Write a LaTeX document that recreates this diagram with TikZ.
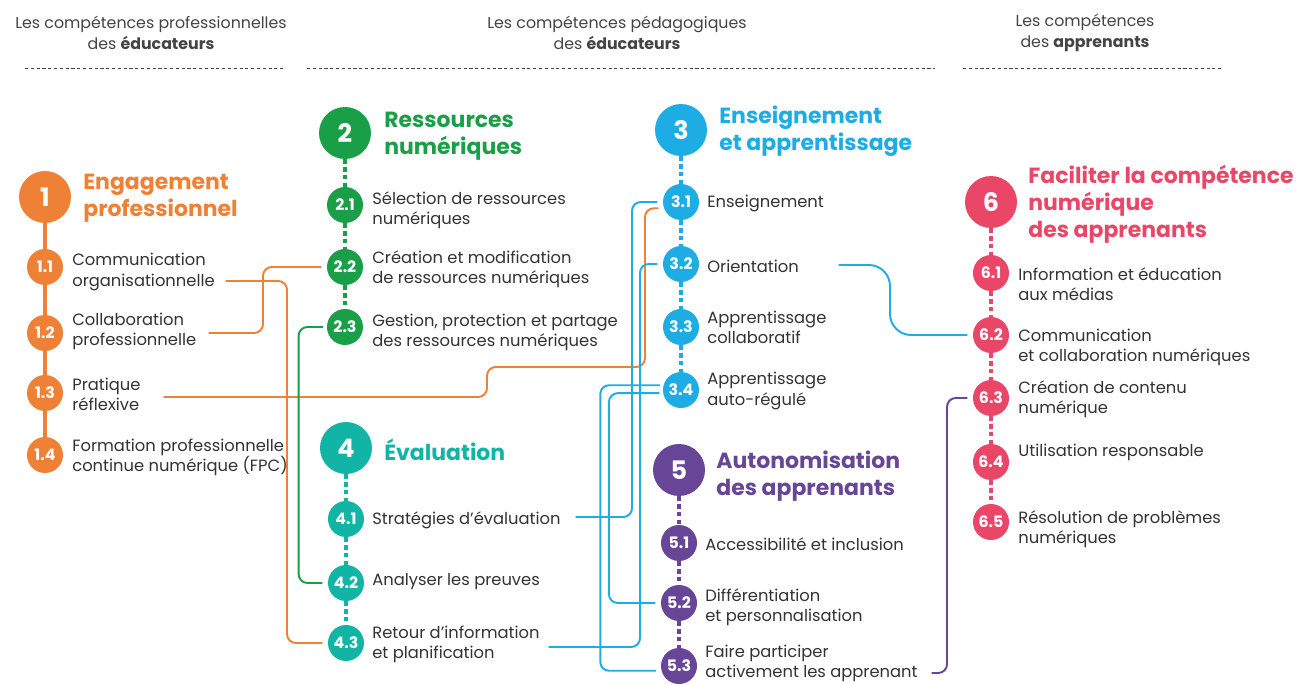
\documentclass[tikz,border=0pt]{standalone}
\usepackage{fontspec}
\setmainfont{Poppins}
\usetikzlibrary{calc}
\definecolor{orangeDC}{HTML}{EF8136}
\definecolor{greenDC}{HTML}{1A9F48}
\definecolor{blueDC}{HTML}{1DADE4}
\definecolor{tealDC}{HTML}{12B4A6}
\definecolor{purpleDC}{HTML}{674597}
\definecolor{pinkDC}{HTML}{EA4768}
\definecolor{ink}{HTML}{333333}
\definecolor{muted}{HTML}{444444}
\tikzset{
  areadot/.style={
    circle, fill=#1, inner sep=0pt, minimum size=1.04cm,
    text=white, font=\fontsize{14.5}{15}\selectfont\bfseries
  },
  subdot/.style={
    circle, fill=#1, inner sep=0pt, minimum size=0.72cm,
    text=white, font=\fontsize{9}{10}\selectfont\bfseries
  },
  areatitle/.style={
    anchor=west, align=left, inner sep=0pt, text=#1,
    font=\fontsize{12.5}{15.5}\selectfont\bfseries
  },
  skill/.style={
    anchor=west, align=left, inner sep=0pt, text=ink,
    font=\fontsize{9.3}{11.4}\selectfont
  },
  colhead/.style={align=center, text=muted, font=\fontsize{9}{12.2}\selectfont},
  rule/.style={muted, line width=0.5pt, dash pattern=on 1.8pt off 1.5pt},
  spine/.style={line width=2.3pt, dash pattern=on 2.6pt off 1.8pt},
  link/.style={line width=1.1pt, rounded corners=5pt, shorten <=2pt, shorten >=3pt}
}
\begin{document}
\begin{tikzpicture}[x=0.02cm, y=-0.02cm]
  \fill[white] (0,0) rectangle (1301,685);
  \useasboundingbox (0,0) rectangle (1301,685);

  % ---- Column headers ------------------------------------------------------
  \node[colhead] (h1) at (151,33) {Les compétences professionnelles\\des \textbf{éducateurs}};
  \node[colhead] (h2) at (617,33) {Les compétences pédagogiques\\des \textbf{éducateurs}};
  \node[colhead] (h3) at (1085,33) {Les compétences\\des \textbf{apprenants}};
  \draw[rule] (25,68) -- (283,68);
  \draw[rule] (307,68) -- (935,68);
  \draw[rule] (963,68) -- (1222,68);

  % ---- 1: Engagement professionnel -----------------------------------------
  \node[areadot=orangeDC] (c1) at (45,197) {1};
  \node[areatitle=orangeDC] (n1) at (83,198) {Engagement\\professionnel};
  \foreach \n/\cy/\ty/\t in {
      1/267/272/{Communication\\organisationnelle},
      2/333/331/{Collaboration\\professionnelle},
      3/393/394/{Pratique\\réflexive},
      4/455/457/{Formation professionnelle\\continue numérique (FPC)}} {
    \node[subdot=orangeDC] (c1\n) at (45,\cy) {1.\n};
    \node[skill] (t1\n) at (72,\ty) {\t};
  }

  % ---- 2: Ressources numeriques --------------------------------------------
  \node[areadot=greenDC] (c2) at (345,133) {2};
  \node[areatitle=greenDC] (n2) at (384,136) {Ressources\\numériques};
  \foreach \n/\cy/\ty/\t in {
      1/205/210/{Sélection de ressources\\numériques},
      2/267/269/{Création et modification\\de ressources numériques},
      3/327/332/{Gestion, protection et partage\\des ressources numériques}} {
    \node[subdot=greenDC] (c2\n) at (345,\cy) {2.\n};
    \node[skill] (t2\n) at (372,\ty) {\t};
  }

  % ---- 3: Enseignement et apprentissage ------------------------------------
  \node[areadot=blueDC] (c3) at (681,130) {3};
  \node[areatitle=blueDC] (n3) at (719,131) {Enseignement\\et apprentissage};
  \foreach \n/\cy/\ty/\t in {
      1/202/203/{Enseignement},
      2/264/266/{Orientation},
      3/327/327/{Apprentissage\\collaboratif},
      4/390/391/{Apprentissage\\auto-régulé}} {
    \node[subdot=blueDC] (c3\n) at (681,\cy) {3.\n};
    \node[skill] (t3\n) at (707,\ty) {\t};
  }

  % ---- 4: Evaluation -------------------------------------------------------
  \node[areadot=tealDC] (c4) at (346,448) {4};
  \node[areatitle=tealDC] (n4) at (384,450) {Évaluation};
  \foreach \n/\cy/\ty/\t in {
      1/519/520/{Stratégies d’évaluation},
      2/583/582/{Analyser les preuves},
      3/643/644/{Retour d’information\\et planification}} {
    \node[subdot=tealDC] (c4\n) at (346,\cy) {4.\n};
    \node[skill] (t4\n) at (372,\ty) {\t};
  }

  % ---- 5: Autonomisation des apprenants ------------------------------------
  \node[areadot=purpleDC] (c5) at (679,470) {5};
  \node[areatitle=purpleDC] (n5) at (716,476) {Autonomisation\\des apprenants};
  \foreach \n/\cy/\ty/\t in {
      1/543/544/{Accessibilité et inclusion},
      2/603/607/{Différentiation\\et personnalisation},
      3/666/663/{Faire participer\\activement les apprenant}} {
    \node[subdot=purpleDC] (c5\n) at (679,\cy) {5.\n};
    \node[skill] (t5\n) at (705,\ty) {\t};
  }

  % ---- 6: Faciliter la competence numerique --------------------------------
  \node[areadot=pinkDC] (c6) at (991,202) {6};
  \node[areatitle=pinkDC] (n6) at (1028,204) {Faciliter la compétence\\numérique\\des apprenants};
  \foreach \n/\cy/\ty/\t in {
      1/273/284/{Information et éducation\\aux médias},
      2/335/347/{Communication\\et collaboration numériques},
      3/398/399/{Création de contenu\\numérique},
      4/462/452/{Utilisation responsable},
      5/522/529/{Résolution de problèmes\\numériques}} {
    \node[subdot=pinkDC] (c6\n) at (991,\cy) {6.\n};
    \node[skill] (t6\n) at (1018,\ty) {\t};
  }

  % ---- Spines --------------------------------------------------------------
  \foreach \a/\b in {c1/c11, c11/c12, c12/c13, c13/c14}
    \draw[orangeDC, line width=2.3pt] (\a) -- (\b);
  \foreach \a/\b in {c2/c21, c21/c22, c22/c23}
    \draw[spine, greenDC] (\a) -- (\b);
  \foreach \a/\b in {c3/c31, c31/c32, c32/c33, c33/c34}
    \draw[spine, blueDC] (\a) -- (\b);
  \foreach \a/\b in {c4/c41, c41/c42, c42/c43}
    \draw[spine, tealDC] (\a) -- (\b);
  \foreach \a/\b in {c5/c51, c51/c52, c52/c53}
    \draw[spine, purpleDC] (\a) -- (\b);
  \foreach \a/\b in {c6/c61, c61/c62, c62/c63, c63/c64, c64/c65}
    \draw[spine, pinkDC] (\a) -- (\b);

  % ---- Links ---------------------------------------------------------------
  \coordinate (o11) at (222,281);
  \coordinate (o12) at (205,333);
  \coordinate (o13) at (160,397);
  \coordinate (o32) at (835,265);
  \coordinate (o41) at (572,517);
  \coordinate (o43) at (545,647);
  \coordinate (o53) at (928,673);

  \draw[link, orangeDC] (o11) -- ++(65,0) |- (c43.west);
  \draw[link, orangeDC] (o12) -- ++(58,0) |- (c22.west);
  \draw[link, orangeDC] (o13) -- ++(327,0) |- (645,367) |- (c31.200);
  \draw[link, greenDC] (c23.west) -- ++(-28,0) |- (c42.west);

  \draw[link, blueDC] (o41) -- ++(60,0) |- (c31.west);
  \draw[link, blueDC] (o43) -- ++(95,0) |- (c32.west);
  \draw[link, blueDC] (c34.165) -- ++(-63,0) |- (c53.195);
  \draw[link, blueDC] (c34.190) -- ++(-54,0) |- (c52.west);
  \draw[link, blueDC, rounded corners=12pt] (o32) -- ++(55,0) |- (c62.west);

  \draw[link, purpleDC] (o53) -- ++(19,0) |- (c63.west);

\end{tikzpicture}
\end{document}
